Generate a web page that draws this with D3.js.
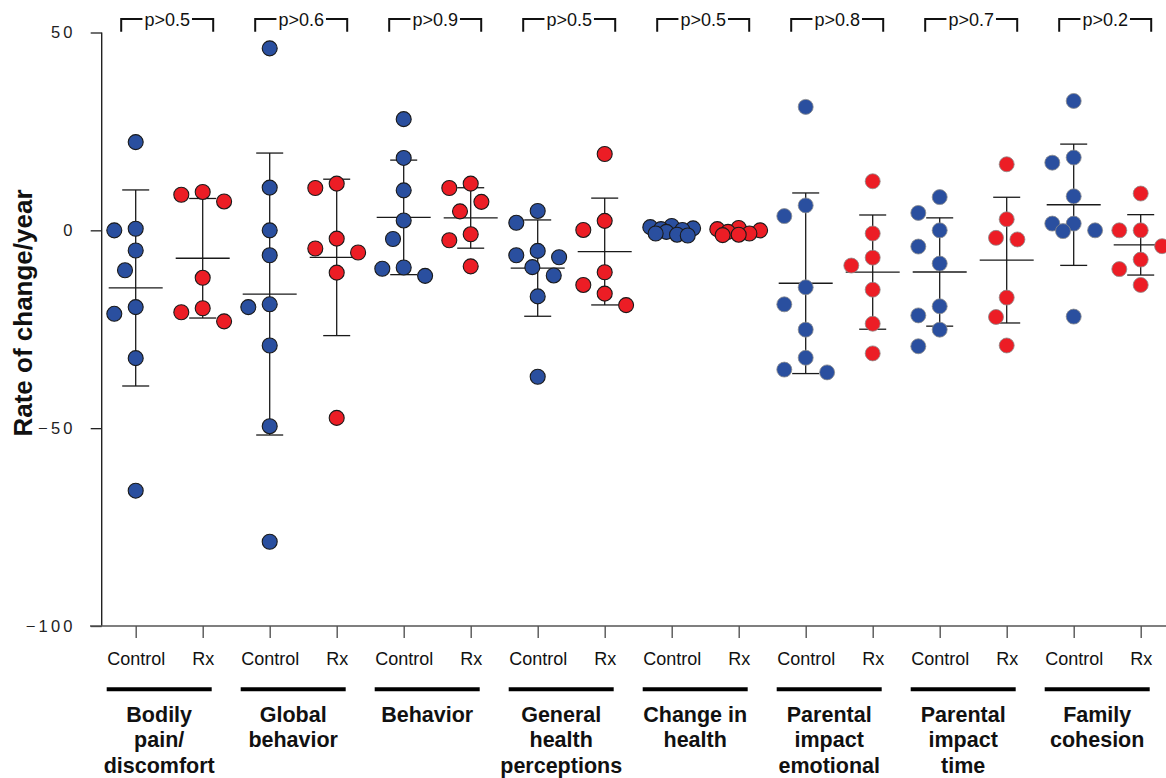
<!DOCTYPE html>
<html>
<head>
<meta charset="utf-8">
<script src="https://cdn.jsdelivr.net/npm/d3@7"></script>
<style>
  html, body { margin: 0; padding: 0; background: #fff; }
  svg { display: block; font-family: "Liberation Sans", Arial, sans-serif; }
</style>
</head>
<body>
<svg id="chart" width="1166" height="778"></svg>
<script>
// Outcome domains (multi-line labels under each pair of columns)
const groupLabels = [
  ["Bodily", "pain/", "discomfort"],
  ["Global", "behavior"],
  ["Behavior"],
  ["General", "health", "perceptions"],
  ["Change in", "health"],
  ["Parental", "impact", "emotional"],
  ["Parental", "impact", "time"],
  ["Family", "cohesion"]
];
const armLabels = ["Control", "Rx"];
const pLabels = ["p>0.5", "p>0.6", "p>0.9", "p>0.5", "p>0.5", "p>0.8", "p>0.7", "p>0.2"];
const yTicks = [50, 0, -50, -100];

// Rate of change per year, one list per domain
const controlValues = [
  [22.3, 0.4, 0, -5.1, -10.1, -19.4, -21.1, -32.3, -65.8],
  [46.0, 10.8, 0, -6.3, -18.7, -19.4, -29.1, -49.5, -78.7],
  [28.1, 18.3, 10.1, 2.5, -2.2, -9.4, -9.7, -11.5],
  [4.9, 1.9, -5.2, -6.3, -6.8, -9.3, -11.4, -16.7, -37.0],
  [1.1, 0.8, 0.5, 0.3, 0.1, -0.4, -0.8, -1.1, -1.3],
  [31.2, 6.3, 3.6, -14.4, -18.7, -25.1, -32.2, -35.2, -35.9],
  [8.4, 4.4, 0, -4.1, -8.4, -19.2, -21.5, -25.1, -29.3],
  [32.7, 18.4, 17.1, 8.6, 1.7, 1.7, 0, -0.2, -21.8]
];
const rxValues = [
  [9.7, 9.0, 7.3, -12.0, -19.7, -20.7, -23.0],
  [11.8, 10.7, -2.1, -4.6, -5.6, -10.7, -47.4],
  [11.8, 10.7, 7.2, 4.8, -1.0, -2.5, -9.1],
  [19.3, 2.4, 0.1, -10.6, -13.8, -16.0, -18.9],
  [0.6, 0.3, 0.0, -0.4, -0.8, -1.1, -1.2],
  [12.4, -0.8, -6.9, -8.9, -15.0, -23.6, -31.1],
  [16.7, 2.8, -1.9, -2.3, -17.0, -21.9, -29.1],
  [9.3, 0, 0, -4.0, -7.4, -9.8, -13.8]
];

const armColors = ["#2a4f9f", "#ec1d25"];

const svg = d3.select("#chart");
const FONT = '"Liberation Sans", Arial, sans-serif';

// Scales
const colKeys = [];
groupLabels.forEach((_, g) => armLabels.forEach((_, a) => colKeys.push(g + "-" + a)));
const x = d3.scalePoint().domain(colKeys).range([135.7, 1140.7]);
const y = d3.scaleLinear().domain([-100, 50]).range([626, 32.5]);

// Y axis
const yAxis = svg.append("g")
  .attr("transform", "translate(101.7,0)")
  .call(d3.axisLeft(y).tickValues(yTicks).tickSize(11).tickPadding(15).tickFormat(d3.format("d")));
yAxis.select(".domain").remove();
yAxis.selectAll(".tick line").attr("stroke", "#222").attr("stroke-width", 1.3);
yAxis.selectAll(".tick text")
  .attr("fill", "#222")
  .style("font-family", FONT)
  .style("font-size", "16.5px")
  .style("letter-spacing", "3.2px");
svg.append("line")
  .attr("x1", 101.7).attr("x2", 101.7)
  .attr("y1", y(50)).attr("y2", y(-100))
  .attr("stroke", "#222").attr("stroke-width", 1.4);

// X axis
const xAxis = svg.append("g")
  .attr("transform", `translate(0,${y(-100)})`)
  .call(d3.axisBottom(x).tickSize(12).tickPadding(14)
    .tickFormat(k => armLabels[+k.split("-")[1]]));
xAxis.select(".domain").remove();
xAxis.selectAll(".tick line").attr("stroke", "#555").attr("stroke-width", 1.4);
xAxis.selectAll(".tick text")
  .attr("fill", "#111")
  .style("font-family", FONT)
  .style("font-size", "18px");
svg.append("line")
  .attr("x1", 90).attr("x2", 1166)
  .attr("y1", y(-100)).attr("y2", y(-100))
  .attr("stroke", "#555").attr("stroke-width", 1.4);

// Y title
svg.append("text")
  .attr("transform", `translate(32,${313}) rotate(-90)`)
  .attr("text-anchor", "middle")
  .style("font-family", FONT)
  .style("font-size", "26px")
  .style("font-weight", "bold")
  .attr("fill", "#111")
  .text("Rate of change/year");

// Beeswarm-style horizontal spread within a column
const LANE = 10.7, MIN_D = 20.5, R = 7.5;
const laneOrder = [0, -1, 1, -2, 2, -0.5, 0.5, -1.5, 1.5];
function spread(vals) {
  const order = d3.range(vals.length).sort((a, b) => d3.descending(vals[a], vals[b]));
  const placed = [];
  const out = new Array(vals.length);
  for (const i of order) {
    const py = y(vals[i]);
    let best = 0, bestD = -1;
    for (const c of laneOrder) {
      const px = c * LANE;
      let m = Infinity;
      for (const p of placed) m = Math.min(m, Math.hypot(px - p.x, py - p.y));
      if (m >= MIN_D) { best = px; break; }
      if (m > bestD) { bestD = m; best = px; }
    }
    placed.push({ x: best, y: py });
    out[i] = best;
  }
  return out;
}

const plot = svg.append("g");
groupLabels.forEach((_, g) => {
  [controlValues[g], rxValues[g]].forEach((vals, a) => {
    const cx = x(g + "-" + a);
    const m = d3.mean(vals), sd = d3.deviation(vals);
    const bars = plot.append("g").attr("stroke", "#1a1a1a").attr("stroke-width", 1.3);
    bars.append("line").attr("x1", cx).attr("x2", cx).attr("y1", y(m + sd)).attr("y2", y(m - sd));
    bars.append("line").attr("x1", cx - 13.5).attr("x2", cx + 13.5).attr("y1", y(m + sd)).attr("y2", y(m + sd));
    bars.append("line").attr("x1", cx - 13.5).attr("x2", cx + 13.5).attr("y1", y(m - sd)).attr("y2", y(m - sd));
    bars.append("line").attr("x1", cx - 27).attr("x2", cx + 27).attr("y1", y(m)).attr("y2", y(m));

    const offs = spread(vals);
    const soft = g >= 5;
    plot.append("g").selectAll("circle")
      .data(vals)
      .join("circle")
      .attr("cx", (d, i) => cx + offs[i])
      .attr("cy", d => y(d))
      .attr("r", R)
      .attr("fill", armColors[a])
      .attr("stroke", soft ? "#8c8c8c" : "#1a1a1a")
      .attr("stroke-width", soft ? 0.8 : 1.1);
  });
});

// Group annotations: bracket with p-value, bar and label below axis
groupLabels.forEach((lines, g) => {
  const mid = (x(g + "-0") + x(g + "-1")) / 2;

  const bx = mid - 2, half = 46, top = 19, bot = 31.7;
  const t = svg.append("text")
    .attr("x", bx).attr("y", 26)
    .attr("text-anchor", "middle")
    .style("font-family", FONT)
    .style("font-size", "18px")
    .attr("fill", "#111")
    .text(pLabels[g]);
  const w = t.node().getComputedTextLength();
  const gap = 2;
  svg.append("path")
    .attr("d", `M${bx - half},${bot}V${top}H${bx - w / 2 - gap}M${bx + w / 2 + gap},${top}H${bx + half}V${bot}`)
    .attr("fill", "none").attr("stroke", "#111").attr("stroke-width", 2);

  const lx = mid - 10;
  svg.append("line")
    .attr("x1", lx - 52.5).attr("x2", lx + 52.5)
    .attr("y1", 689.3).attr("y2", 689.3)
    .attr("stroke", "#000").attr("stroke-width", 4);
  const label = svg.append("text")
    .attr("text-anchor", "middle")
    .style("font-family", FONT)
    .style("font-size", "21.5px")
    .style("font-weight", "bold")
    .attr("fill", "#111");
  lines.forEach((ln, i) => {
    label.append("tspan").attr("x", lx).attr("y", 721.7 + i * 25.5).text(ln);
  });
});
</script>
</body>
</html>
